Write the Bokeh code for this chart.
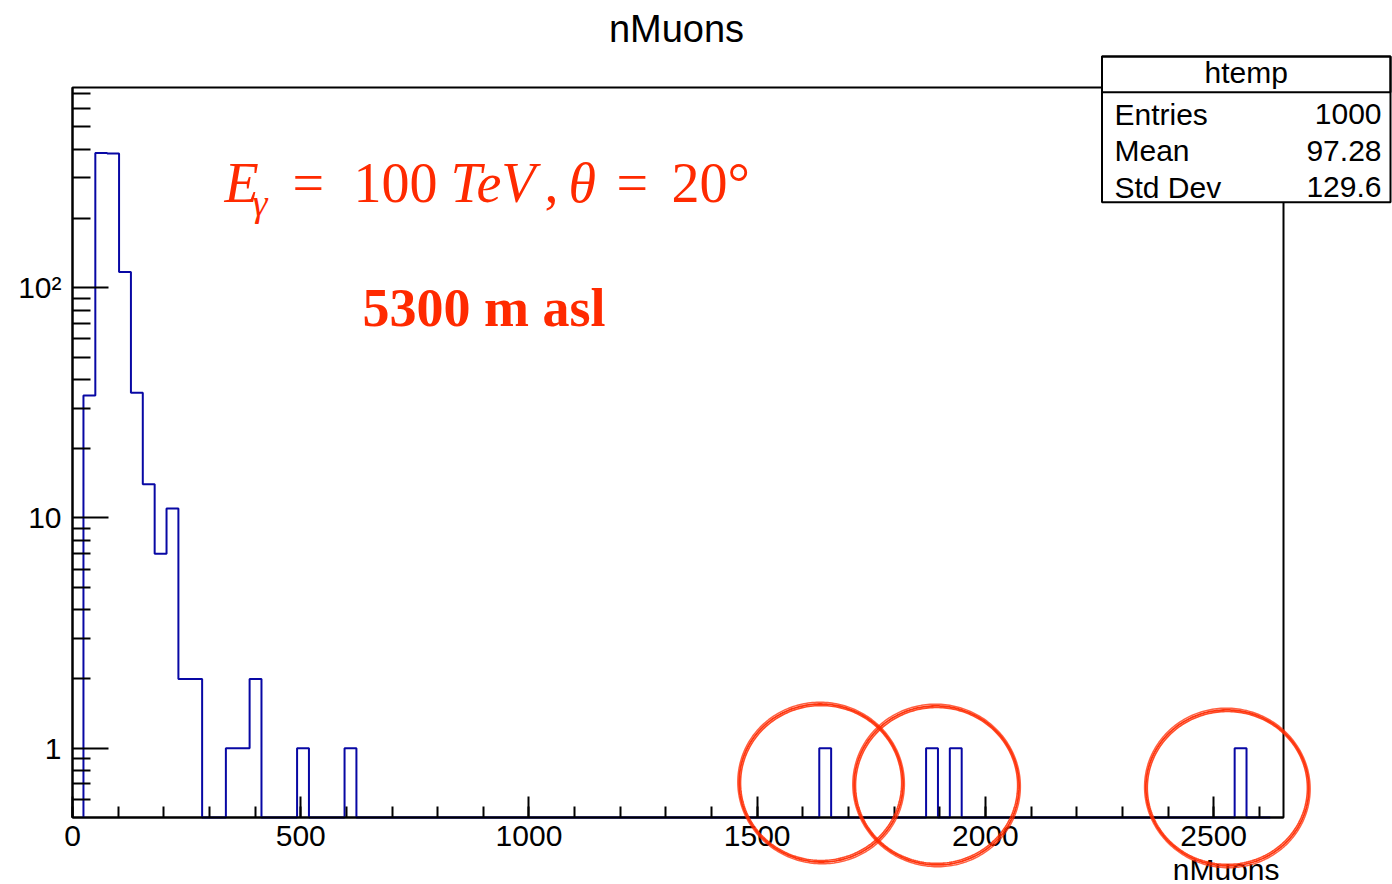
import numpy as np
from bokeh.plotting import figure
from bokeh.models import (Range1d, FixedTicker, Label, BoxAnnotation, PolyAnnotation,
                          LinearAxis, LogAxis)
from bokeh.embed import file_html
from bokeh.resources import INLINE

# ---- histogram "htemp" of nMuons (100 bins) ----
bin_start = 24.0
bin_width = 26.0
n_bins = 100

# bins that have entries (bin index -> entries)
filled_bins = [0, 1, 2, 3, 4, 5, 6, 7, 8, 9, 12, 13, 14, 18, 22, 62, 71, 73, 97]
filled_counts = [34, 385, 383, 117, 35, 14, 7, 11, 2, 2, 1, 1, 2, 1, 1, 1, 1, 1, 1]

x_tick_values = [0, 500, 1000, 1500, 2000, 2500]
x_tick_labels = ["0", "500", "1000", "1500", "2000", "2500"]
x_minor_values = list(range(0, 2700, 100))

y_tick_values = [1, 10, 100]
y_tick_labels = ["1", "10", "10\u00b2"]
y_minor_values = [0.6, 0.7, 0.8, 0.9] + list(range(2, 10)) + list(range(20, 100, 10)) + list(range(200, 800, 100))

stats_title = "htemp"
stats_names = ["Entries", "Mean", "Std Dev"]
stats_values = ["1000", "97.28", "129.6"]

# ---- pad geometry (pixels) and axis ranges ----
W, H = 1392, 884
FRAME_L, FRAME_T, FRAME_W, FRAME_H = 72, 87, 1211, 730
X_MIN, X_MAX = 0.0, 2653.0
Y_MIN, Y_MAX = 0.5, 741.0

px_per_x = FRAME_W / (X_MAX - X_MIN)
px_per_decade = FRAME_H / (np.log10(Y_MAX) - np.log10(Y_MIN))
# the plotting area spans the whole pad; the ROOT frame sits inside it
x_lo = X_MIN - FRAME_L / px_per_x
x_hi = X_MAX + (W - FRAME_L - FRAME_W) / px_per_x
y_lo = Y_MIN * 10 ** (-(H - FRAME_T - FRAME_H) / px_per_decade)
y_hi = Y_MAX * 10 ** (FRAME_T / px_per_decade)

HIST_COLOR = "#0808a4"
RED = "#ff2a00"
SANS = "Liberation Sans"
SERIF = "Liberation Serif"
BASE = 0.37  # alphabetic-baseline correction, fraction of font size

p = figure(
    width=W, height=H, min_border=0,
    x_range=Range1d(x_lo, x_hi), y_range=Range1d(y_lo, y_hi),
    y_axis_type="log", x_axis_location=None, y_axis_location=None,
    output_backend="svg", toolbar_location=None,
    background_fill_color="white", border_fill_color="white",
)
p.grid.visible = False
p.outline_line_color = None

# ---- axes, ROOT style: ticks pointing into the frame ----
xa = LinearAxis(fixed_location=Y_MIN, bounds=(X_MIN, X_MAX))
xa.ticker = FixedTicker(ticks=x_tick_values, minor_ticks=x_minor_values)
xa.major_label_overrides = dict(zip(x_tick_values, x_tick_labels))
xa.major_tick_in, xa.major_tick_out = 21, 0
xa.minor_tick_in, xa.minor_tick_out = 11, 0
xa.major_tick_line_width = 2
xa.minor_tick_line_width = 2
xa.axis_line_width = 2
xa.major_label_standoff = 8
xa.major_label_text_font = SANS
xa.major_label_text_font_size = "30px"
xa.major_label_text_color = "black"
p.add_layout(xa, "below")

ya = LogAxis(fixed_location=X_MIN, bounds=(Y_MIN, Y_MAX))
ya.ticker = FixedTicker(ticks=y_tick_values, minor_ticks=y_minor_values)
ya.major_label_overrides = dict(zip(y_tick_values, y_tick_labels))
ya.major_tick_in, ya.major_tick_out = 36, 0
ya.minor_tick_in, ya.minor_tick_out = 18, 0
ya.major_tick_line_width = 2
ya.minor_tick_line_width = 2
ya.axis_line_width = 2
ya.major_label_standoff = 11
ya.major_label_text_font = SANS
ya.major_label_text_font_size = "30px"
ya.major_label_text_color = "black"
p.add_layout(ya, "left")

# frame border (top and right sides)
p.add_layout(BoxAnnotation(left=X_MIN, right=X_MAX, bottom=Y_MIN, top=Y_MAX,
                           fill_alpha=0.0, line_color="black", line_alpha=1.0,
                           line_width=2, level="underlay"))

# ---- histogram outline (empty bins sit on the axis floor) ----
counts = np.zeros(n_bins)
counts[filled_bins] = filled_counts
edges = bin_start + bin_width * np.arange(n_bins + 1)
heights = np.maximum(counts, Y_MIN)
xs = [edges[0]]
ys = [Y_MIN]
for i in range(n_bins):
    xs += [edges[i], edges[i + 1]]
    ys += [heights[i], heights[i]]
xs.append(edges[-1])
ys.append(Y_MIN)
p.line(xs, ys, line_color=HIST_COLOR, line_width=2)


def text(x, baseline, s, size, font=SANS, style="normal", align="left", color="black",
         level="annotation"):
    p.add_layout(Label(x=x, y=baseline - BASE * size, x_units="canvas", y_units="canvas",
                       text=s, text_font=font, text_font_size=f"{size}px",
                       text_font_style=style, text_align=align,
                       text_baseline="alphabetic", text_color=color, level=level))


# ---- titles ----
text(676, 43, "nMuons", 38, align="center")
text(1279, 880, "nMuons", 30, align="right")

# ---- statistics box ----
BOX_L, BOX_R, BOX_T, BOX_B, BOX_HDR = 1101.5, 1390, 56, 201.7, 91.7
p.add_layout(BoxAnnotation(left=BOX_L, right=BOX_R, top=BOX_T, bottom=BOX_B,
                           left_units="canvas", right_units="canvas",
                           top_units="canvas", bottom_units="canvas",
                           fill_color="white", fill_alpha=1.0,
                           line_color="black", line_alpha=1.0, line_width=2,
                           level="annotation"))
p.add_layout(BoxAnnotation(left=BOX_L, right=BOX_R, top=BOX_T, bottom=BOX_HDR,
                           left_units="canvas", right_units="canvas",
                           top_units="canvas", bottom_units="canvas",
                           fill_alpha=0.0, line_color="black", line_alpha=1.0,
                           line_width=2, level="annotation"))
text((BOX_L + BOX_R) / 2, 83.5, stats_title, 30, align="center", level="overlay")
for k, (name, val) in enumerate(zip(stats_names, stats_values)):
    base = 125 + 36.3 * k
    text(1114, base, name, 30, level="overlay")
    text(1381, base, val, 30, align="right", level="overlay")

# ---- physics annotation ----
formula = [
    ("E", 224, 203, 56, "italic"),
    ("\u03b3", 252, 217, 38, "italic"),
    ("=", 292, 203, 56, "normal"),
    ("100", 353, 203, 56, "normal"),
    ("TeV", 450, 203, 56, "italic"),
    (",", 544, 203, 56, "normal"),
    ("\u03b8", 568, 203, 56, "italic"),
    ("=", 616, 203, 56, "normal"),
    ("20\u00b0", 671, 203, 56, "normal"),
]
for s, lx, bl, fs, style in formula:
    text(lx, bl, s, fs, font=SERIF, style=style, color=RED)
text(362, 327, "5300 m asl", 54, font=SERIF, style="bold", color=RED)

# ---- hand-drawn rings around the isolated high-multiplicity events ----
rings = [(1640, 0.706, 81.5, 79.5), (1893, 0.689, 82, 80), (2530, 0.672, 81, 78.5)]
t = np.linspace(0, 2 * np.pi, 241)
for cx, cy, rx, ry in rings:
    for dr, ph, w, a in [(-1.5, 0.0, 1.6, 0.85), (0.0, 0.5, 1.8, 0.95), (1.5, 1.1, 1.5, 0.75)]:
        wob = 1.0 + 0.007 * np.cos(2 * t + ph)
        ring_x = cx + (rx + dr) * wob * np.cos(t) / px_per_x
        ring_y = cy * 10 ** ((ry + dr) * wob * np.sin(t) / px_per_decade)
        p.add_layout(PolyAnnotation(xs=list(ring_x), ys=list(ring_y),
                                    fill_alpha=0.0, line_color=RED, line_width=w,
                                    line_alpha=a, level="overlay"))

open("out.html", "w").write(file_html(p, INLINE))
